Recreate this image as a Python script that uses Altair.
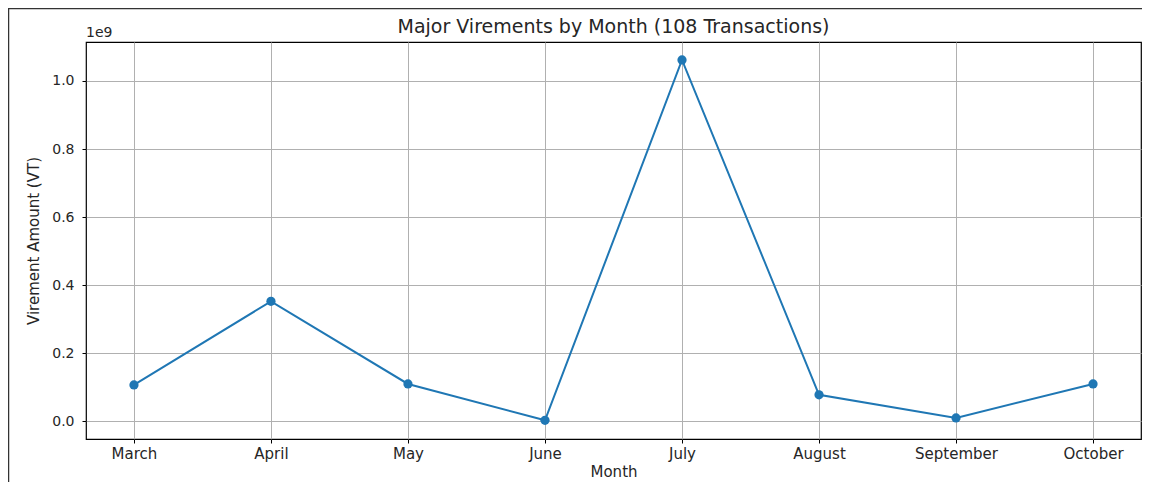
import altair as alt
import pandas as pd

months = ["March", "April", "May", "June", "July", "August", "September", "October"]
amounts = [1.06e8, 3.52e8, 1.09e8, 2.0e6, 1.062e9, 7.7e7, 9.0e6, 1.09e8]
title_text = "Major Virements by Month (108 Transactions)"

df = pd.DataFrame({"idx": list(range(len(months))), "month": months, "amount": amounts})
one = pd.DataFrame({"k": [0]})

label_expr = "[" + ",".join(f"'{m}'" for m in months) + "][datum.value]"

FONT = "DejaVu Sans"
TXT = "#262626"
W, H = 1055, 397

x = alt.X("idx:Q", title="Month",
          scale=alt.Scale(domain=[-0.35, 7.35], nice=False, zero=False),
          axis=alt.Axis(values=list(range(8)), labelExpr=label_expr, grid=True,
                        tickColor="black", tickSize=4, domain=False,
                        labelFontSize=15, labelColor=TXT, labelFont=FONT, labelPadding=3,
                        titleFontSize=15, titleFont=FONT, titleFontWeight="normal", titleColor=TXT,
                        titlePadding=3, gridColor="#b0b0b0", gridWidth=1))
y = alt.Y("amount:Q", title="Virement Amount (VT)",
          scale=alt.Scale(domain=[-0.0529e9, 1.1147e9], nice=False, zero=False),
          axis=alt.Axis(values=[0, 2e8, 4e8, 6e8, 8e8, 1e9],
                        labelExpr="format(datum.value/1e9, '.1f')", grid=True,
                        tickColor="black", tickSize=4, domain=False,
                        labelFontSize=14, labelColor=TXT, labelFont=FONT, labelPadding=8,
                        titleFontSize=15, titleFont=FONT, titleFontWeight="normal", titleColor=TXT,
                        titlePadding=10, gridColor="#b0b0b0", gridWidth=1))

line = alt.Chart(df).mark_line(color="#1f77b4", strokeWidth=2).encode(x=x, y=y)
pts = alt.Chart(df).mark_point(filled=True, color="#1f77b4", size=85, opacity=1).encode(x=x, y=y)
exp = alt.Chart(one).mark_text(text="1e9", align="left", baseline="alphabetic", font=FONT,
                               fontSize=14, color=TXT).encode(x=alt.value(0), y=alt.value(-5))
ttl = alt.Chart(one).mark_text(text=title_text, align="center", baseline="alphabetic", font=FONT,
                               fontSize=19, color=TXT).encode(x=alt.value(W / 2), y=alt.value(-9))
frame_l = alt.Chart(one).mark_rule(color="#333333", strokeWidth=1.5).encode(
    x=alt.value(-77.5), y=alt.value(-34), y2=alt.value(440))
frame_t = alt.Chart(one).mark_rule(color="#333333", strokeWidth=1.5).encode(
    x=alt.value(-78), x2=alt.value(W + 1), y=alt.value(-33.5))

chart = (line + pts + exp + ttl + frame_l + frame_t).properties(
    width=W, height=H,
    autosize=alt.AutoSizeParams(type="none"),
    padding={"left": 78, "top": 34, "right": 1, "bottom": 43},
    background="white",
).configure_view(stroke="black", strokeWidth=1.2)

chart.save("out.html", embed_options={"renderer": "svg", "actions": False})
